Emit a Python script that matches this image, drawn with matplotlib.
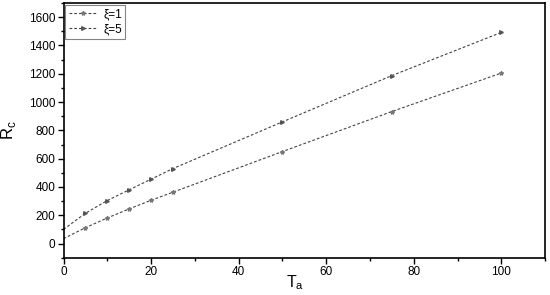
import matplotlib
matplotlib.use("Agg")
import matplotlib.pyplot as plt
from matplotlib.ticker import MultipleLocator

plt.rcParams['font.family'] = ['Liberation Sans', 'DejaVu Sans']

ta = [0, 5, 10, 15, 20, 25, 50, 75, 100]
rc_xi1 = [35, 112, 181, 245, 306, 363, 650, 933, 1205]
rc_xi5 = [100, 214, 304, 380, 455, 530, 860, 1187, 1492]

fig = plt.figure(figsize=(5.5, 2.95), dpi=100)
ax = fig.add_axes([0.1155, 0.1264, 0.8755, 0.8634])

ax.plot(ta, rc_xi1, linestyle=(0, (2.5, 1.8)), color='#444444', linewidth=0.8,
        marker='*', markersize=3, markevery=list(range(1, len(ta))),
        markerfacecolor='#777777', markeredgecolor='#777777', label='ξ=1')
ax.plot(ta, rc_xi5, linestyle=(0, (2.5, 1.8)), color='#444444', linewidth=0.8,
        marker='>', markersize=2.6, markevery=list(range(1, len(ta))),
        markerfacecolor='#555555', markeredgecolor='#555555', label='ξ=5')

ax.set_xlim(0, 110)
ax.set_ylim(-100, 1700)
ax.xaxis.set_major_locator(MultipleLocator(20))
ax.xaxis.set_minor_locator(MultipleLocator(10))
ax.yaxis.set_major_locator(MultipleLocator(200))
ax.yaxis.set_minor_locator(MultipleLocator(100))
ax.tick_params(which='major', direction='out', length=4, width=1, labelsize=8.5, pad=2)
ax.tick_params(which='minor', direction='out', length=2.5, width=1)
for s in ax.spines.values():
    s.set_linewidth(1.2)

ax.set_xlabel('T$_\\mathregular{a}$', fontsize=11.5)
ax.xaxis.set_label_coords(0.48, -0.06)
ax.set_ylabel('R$_\\mathregular{c}$', fontsize=12, labelpad=8)

leg = ax.legend(loc='upper left', fontsize=8.5, frameon=True, fancybox=False,
                borderpad=0.3, labelspacing=0.25, handlelength=2.4,
                handletextpad=0.5, borderaxespad=0.15)
leg.get_frame().set_edgecolor('#666666')
leg.get_frame().set_linewidth(0.8)

fig.savefig('out.png', dpi=100)
